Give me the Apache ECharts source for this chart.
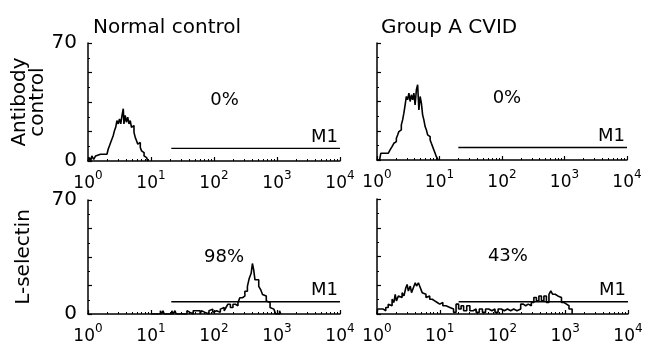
<!DOCTYPE html>
<html><head><meta charset="utf-8">
<script src="https://cdn.jsdelivr.net/npm/echarts@6/dist/echarts.min.js"></script>
<style>html,body{margin:0;padding:0;background:#fff}#c{width:647px;height:352px}</style>
</head><body><div id="c"></div>
<script>
// ---- data ----
const panelTitles = ['Normal control', 'Group A CVID'];
const rowLabels = ['Antibody\ncontrol', 'L-selectin'];
const xMin = 1, xMax = 10000;
const yMin = 0, yMax = 70;
const yTickLabels = [0, 70];

// Normal control, antibody control histogram (fluorescence, count)
const tlX = [1.00,1.05,1.10,1.15,1.23,1.32,1.41,1.58,1.78,2.00,2.09,2.19,2.29,2.40,2.51,2.63,2.75,2.88,3.02,3.16,3.31,3.47,3.63,3.72,3.89,4.07,4.27,4.47,4.68,4.90,5.13,5.37,5.62,5.89,6.17,6.46,6.76,7.08,7.41,7.76,8.13,8.51,8.91];
const tlY = [0,2,0,3,1,3,4,4,4,5,7,9,11,13,15,18,20,24,22,25,22,27,31,22,27,23,26,22,24,20,21,17,14,12,10,11,8,6,5,3,2,1,0];

// Group A CVID, antibody control
const trX = [1.00,1.10,1.15,1.32,1.51,1.62,1.74,1.86,1.95,2.04,2.14,2.24,2.34,2.45,2.57,2.69,2.82,2.95,3.09,3.24,3.39,3.55,3.72,3.89,4.07,4.27,4.47,4.68,4.90,5.13,5.37,5.62,5.89,6.17,6.46,6.76,7.08,7.41,7.76,8.13,8.51,8.91,9.55];
const trY = [0,1,4,4,4,6,8,10,11,13,15,17,18,21,24,28,33,38,36,40,35,39,36,40,33,42,45,30,38,34,27,24,20,18,15,14,12,10,8,6,4,2,0];

// Normal control, L-selectin
const blX = [10,14.1,14.8,15.5,16.2,21.4,22.4,24,25.1,37.2,39.8,41.7,44.7,46.8,50.1,52.5,56.2,60.3,63.1,67.6,72.4,77.6,83.2,89.1,95.5,102,110,118,126,135,145,155,166,182,200,219,240,257,282,309,339,363,389,407,427,447,479,513,550,589,631,676,724,776,832,891,955,1096,1148];
const blY = [0,2,0,2,0,2,0,2,0,2,1,2,0,2,2,1,2,0,2,1,2,0,2,3,1,2,3,1,3,4,2,4,6,4,6,5,7,10,11,14,17,22,25,31,27,21,21,17,15,12,11,8,7,4,3,2,0,2,0];

// Group A CVID, L-selectin
const brX = [1.00,1.02,1.12,1.26,1.38,1.51,1.62,1.74,1.86,1.95,2.04,2.19,2.34,2.51,2.69,2.88,3.02,3.16,3.39,3.55,3.80,4.07,4.27,4.57,4.90,5.25,5.62,6.03,6.46,6.92,7.59,8.32,9.12,10.0,11.2,12.6,14.5,16.6,18.2,20.0,21.9,24.0,26.9,30.2,33.9,38.0,42.7,47.9,53.7,60.3,67.6,75.9,85.1,95.5,107,120,135,151,170,195,214,234,257,288,316,347,380,417,457,501,550,589,631,692,759,813,871,955,1047,1148,1288];
const brY = [0,3,3,2,4,6,5,9,7,12,8,11,10,13,11,16,18,14,17,13,16,19,17,19,16,13,12,10,11,9,8,7,6,7,5,4,3,1,6,3,5,2,5,2,3,1,3,1,3,2,3,1,3,2,3,2,3,2,3,6,5,6,5,7,10,8,11,8,11,7,12,14,12,11,12,10,7,6,5,3,0];

// M1 gate markers
const m1Start = [21, 20, 21, 20];
const m1End = [10000, 10000, 10000, 10000];
const m1Level = [7.5, 7.5, 7.5, 7.5];
const m1Label = 'M1';

// percentage annotations
const pctLabels = ['0%', '0%', '98%', '43%'];
const pctX = [147, 120, 144, 122];
const pctY = [36, 37, 35, 35];

// ---- chart ----
const FONT = 'DejaVu Sans';
const histX = [tlX, trX, blX, brX];
const histY = [tlY, trY, blY, brY];
const grids = [
  {left: 88, top: 43, width: 252, height: 118},
  {left: 377, top: 43, width: 250, height: 117},
  {left: 88, top: 200, width: 252, height: 114},
  {left: 377, top: 199, width: 251, height: 115}
];

const xAxes = grids.map((g, i) => ({
  type: 'log', logBase: 10, min: xMin, max: xMax, gridIndex: i,
  axisLine: {show: true, lineStyle: {color: '#000', width: 1.5}},
  axisTick: {show: true, inside: true, length: 4, lineStyle: {color: '#000', width: 1.2}},
  minorTick: {show: true, splitNumber: 9, length: 2, lineStyle: {color: '#000', width: 1}},
  splitLine: {show: false},
  axisLabel: {
    margin: 9, color: '#000', fontFamily: FONT,
    formatter: v => '{b|10}{s|' + Math.round(Math.log10(v)) + '}',
    rich: {
      b: {fontSize: 17, fontFamily: FONT, color: '#000', lineHeight: 22, verticalAlign: 'bottom'},
      s: {fontSize: 12, fontFamily: FONT, color: '#000', lineHeight: 12, verticalAlign: 'top'}
    }
  }
}));

const yAxes = grids.map((g, i) => ({
  type: 'value', min: yMin, max: yMax, interval: 17.5, gridIndex: i,
  name: (i % 2 === 0) ? rowLabels[i / 2] : '',
  nameLocation: 'middle', nameRotate: 90, nameGap: (i === 0 ? 40 : 55),
  nameTextStyle: {fontSize: 20, fontFamily: FONT, color: '#000', lineHeight: 18},
  axisLine: {show: true, lineStyle: {color: '#000', width: 1.5}},
  axisTick: {show: true, inside: true, length: 4, lineStyle: {color: '#000', width: 1.2}},
  minorTick: {show: true, splitNumber: 2, length: 2, lineStyle: {color: '#000'}},
  splitLine: {show: false},
  axisLabel: {
    show: i % 2 === 0, margin: 11, fontSize: 20, fontFamily: FONT, color: '#000',
    formatter: v => yTickLabels.indexOf(v) >= 0 ? String(v) : ''
  }
}));

const series = [];
for (let i = 0; i < 4; i++) {
  series.push({
    type: 'line', name: 'M1-' + i, xAxisIndex: i, yAxisIndex: i,
    data: [[m1Start[i], m1Level[i]], {value: [m1End[i], m1Level[i]], label: {show: true}}],
    symbol: 'circle', symbolSize: 0, showSymbol: true,
    lineStyle: {color: '#000', width: 1.4}, itemStyle: {color: '#000'},
    label: {show: false, formatter: m1Label, position: 'top', align: 'right', offset: [-2, 3],
            fontSize: 18, fontFamily: FONT, color: '#000'},
    silent: true, animation: false, z: 2
  });
  series.push({
    type: 'line', name: 'hist-' + i, xAxisIndex: i, yAxisIndex: i,
    data: histX[i].map((x, k) => [x, histY[i][k]]),
    step: 'end', symbol: 'none',
    lineStyle: {color: '#000', width: 1.6},
    silent: true, animation: false, z: 3
  });
  series.push({
    type: 'line', name: 'pct-' + i, xAxisIndex: i, yAxisIndex: i,
    data: [[pctX[i], pctY[i]]], symbol: 'circle', symbolSize: 0, showSymbol: true,
    itemStyle: {color: '#000'}, lineStyle: {width: 0},
    label: {show: true, position: 'inside', formatter: pctLabels[i], fontSize: 18,
            fontFamily: FONT, color: '#000'},
    silent: true, animation: false
  });
}

const chart = echarts.init(document.getElementById('c'), null, {renderer: 'canvas'});
chart.setOption({
  backgroundColor: '#fff',
  animation: false,
  textStyle: {fontFamily: FONT},
  title: [
    {text: panelTitles[0], left: 88, top: 13, textStyle: {fontSize: 20, fontWeight: 'normal', fontFamily: FONT, color: '#000'}},
    {text: panelTitles[1], left: 376, top: 13, textStyle: {fontSize: 20, fontWeight: 'normal', fontFamily: FONT, color: '#000'}}
  ],
  grid: grids,
  xAxis: xAxes,
  yAxis: yAxes,
  series: series
});
</script>
</body></html>
